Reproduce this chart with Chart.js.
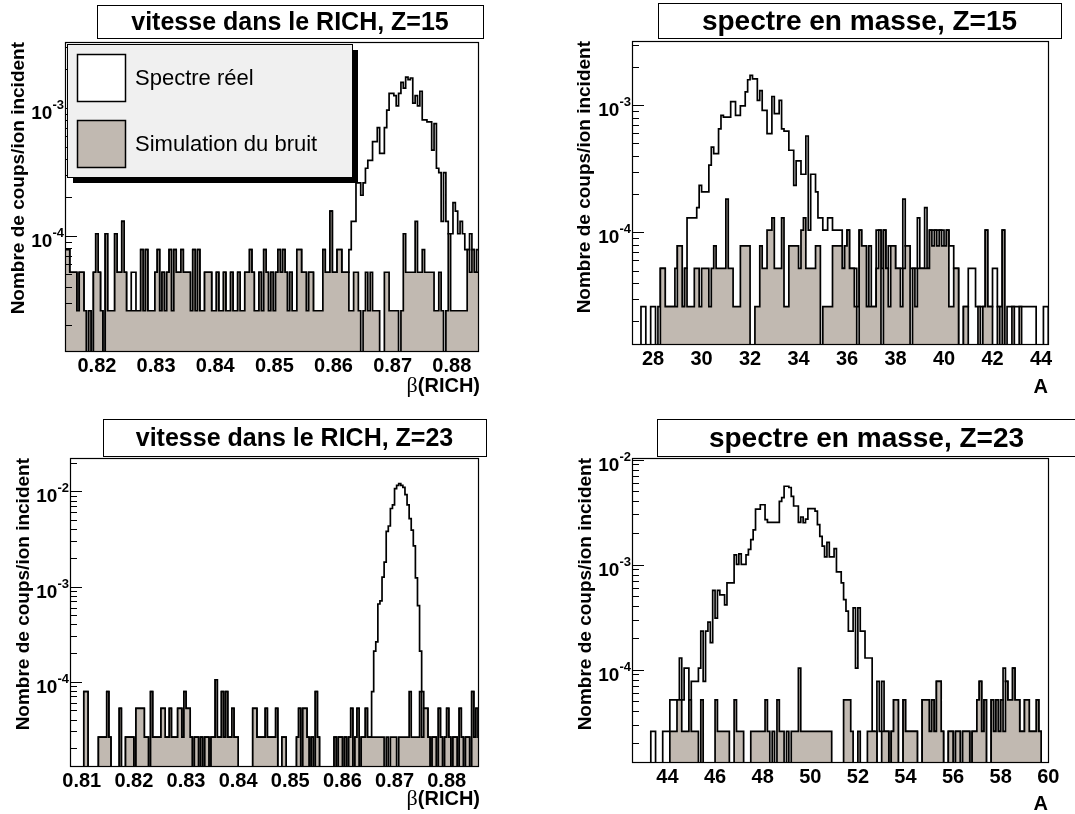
<!DOCTYPE html>
<html><head><meta charset="utf-8">
<script src="https://cdn.jsdelivr.net/npm/chart.js@4.4.1/dist/chart.umd.min.js"></script>
<style>
html,body{margin:0;padding:0;background:#fff;}
#wrap{position:relative;width:1075px;height:814px;overflow:hidden;background:#fff;}
#wrap canvas{position:absolute;}
</style></head><body>
<div id="wrap">
<canvas id="c1" width="537" height="407" style="left:0;top:0;width:537px;height:407px"></canvas>
<canvas id="c2" width="538" height="407" style="left:537px;top:0;width:538px;height:407px"></canvas>
<canvas id="c3" width="537" height="407" style="left:0;top:407px;width:537px;height:407px"></canvas>
<canvas id="c4" width="538" height="407" style="left:537px;top:407px;width:538px;height:407px"></canvas>
</div>
<script>
// ---------- DATA (counts per bin; value = counts x normalisation per incident ion) ----------
// Panel 1 : vitesse dans le RICH, Z=15  (bins of 0.0004 starting at 0.8146)
const p1BinStart = 0.8146, p1BinWidth = 0.0004, p1Unit = 2.6e-5;
const p1Real = [3,3,2,2,2,1,2,2,1,0, 1,0,2,4,2,1,0,4,1,1, 1,4,2,2,5,2,1,1,2,2, 1,1,3,1,3,1,1,1,2,3,
  1,2,1,2,3,1,3,2,2,3, 2,2,2,1,3,1,3,1,1,2, 2,2,1,1,2,1,1,2,1,1, 2,1,1,2,1,1,2,2,3,2, 1,1,2,1,3,2,1,2,
  1,2,3,2,3,2,1,2,1,1, 3,3,2,2,1,2,2,1,1,1, 1,3,2,2,6,2,2,3,3,2,
  2,2,3,5,5,10,10,8,10,13, 15,15,21,21,27,17,17,27,37,50, 50,48,40,50,61,55,67,64,66,42,
  48,40,52,31,31,30,30,18,29,13, 12,5,12,5,4,4,7,6,4,5, 4,3,3,4,3,2,3];
const p1Noise = [3,3,2,2,2,1,2,2,1,0, 1,0,2,4,2,1,0,4,1,1, 1,4,2,2,5,2,1,1,1,1, 1,1,3,1,3,1,1,1,2,3,
  1,2,1,2,3,1,3,2,2,3, 2,2,2,1,3,1,3,1,1,2, 2,2,1,1,2,1,1,2,1,1, 2,1,1,2,1,1,2,2,3,2, 1,1,2,1,3,2,1,2,
  1,2,3,2,3,2,1,2,1,1, 3,3,2,2,1,2,2,1,1,1, 1,3,2,2,6,2,2,3,3,2, 2,2,1,1,2,2,1,0,1,2,
  1,2,1,1,1,0,0,2,2,1, 1,1,1,0,1,4,2,2,2,2, 5,2,2,3,2,2,2,2,1,1, 2,1,0,1,4,1,1,1,1,1, 1,1,3,2,3,2,2];
const p1XTicks = [0.82,0.83,0.84,0.85,0.86,0.87,0.88];
const p1XLabels = ['0.82','0.83','0.84','0.85','0.86','0.87','0.88'];
const p1YDecades = [-4,-3];

// Panel 2 : spectre en masse, Z=15  (bins of 0.1 starting at 27.1)
const p2BinStart = 27.1, p2BinWidth = 0.1, p2Unit = 2.6e-5;
const p2Real = [0,0,0,0,1,1,0,0,1,1, 0,1,2,2,1,1,1,1,2,3, 3,1,2,
  5,5,5,5,6,9,8,8,8,13, 18,16,16,25,32,31,31,31,41,41, 32,32,38,38,49,61,66,62,62,42,
  50,35,35,23,23,45,33,33,42,25, 24,24,17,17,9,14,14,11,11,22, 4,11,11,8,5,5,4,4,5,5, 4,4,
  4,4,2,3,4,2,2,2,1,4, 3,3,1,3,1,1,4,4,2,4, 2,3,3,3,2,2,2,7,3,3, 2,2,2,5,2,2,6,2,4,4,
  4,4,4,4,3,4,3,3,2,2, 0,0,1,1,2,2,2,1,1,1, 1,4,1,1,2,2,1,1,4,0, 1,1,1,1,1,1,1,1,1,1,
  1,1,0,0,0,1,1,0];
const p2Noise = [0,0,0,0,0,0,0,0,0,0, 0,0,2,2,1,1,
  1,1,1,3,3,1,2,1,1,1, 2,2,1,2,2,2,1,2,3,2, 2,2,2,7,2,2,1,1,1,3, 3,3,3,0,0,1,1,3,2,2,
  4,4,5,2,2,2,5,1,1,3, 3,3,3,2,4,5,2,2,2,2, 3,3,0,1,1,1,1,3,3,
  3,3,2,3,4,2,2,1,0,4, 3,3,1,1,1,1,2,4,0,4, 2,1,3,3,2,2,1,2,3,3, 0,2,1,2,2,2,2,2,4,3,
  4,3,4,3,3,4,1,1,2,2, 0,0,1,1,0,0,0,0,1,0, 1,4,1,1,0,0,1,0,4,0, 0,0,1,0,0,1,0,0,0,0,
  0,0,0,0,0,0,0,0];
const p2XTicks = [28,30,32,34,36,38,40,42,44];
const p2XLabels = ['28','30','32','34','36','38','40','42','44'];
const p2YDecades = [-4,-3];

// Panel 3 : vitesse dans le RICH, Z=23  (bins of 0.0004 starting at 0.8076)
const p3BinStart = 0.8076, p3BinWidth = 0.0004, p3Unit = 2.62e-5;
const p3Real = [0,0,0,0,0,0,0,3,3,0, 0,0,0,0,1,1,1,1,3,1, 0,0,0,0,2,0,0,1,1,1, 1,0,2,2,2,2,1,1,0,3,
  1,1,1,1,2,2,1,1,2,1, 1,1,2,2,1,3,2,2,1,0, 1,1,0,1,0,1,1,0,1,1, 4,1,1,3,1,3,1,1,2,1,
  1,0,0,0,0,0,0,0,2,2, 1,1,1,1,2,1,1,1,1,2, 0,0,1,1,0,0,0,0,0,1, 2,0,2,2,1,0,1,0,3,1,
  0,0,0,0,0,0,0,1,0,1, 1,0,1,0,1,2,0,1,2,0, 1,1,2,1,1,3,8,10,25,27,
  48,69,145,165,252,275,408,440,460,440, 420,352,275,197,149,102,47,24,8,3,
  2,2,1,0,1,1,0,2,1,0, 1,2,1,0,1,1,0,2,1,0, 1,1,0,3,1,2,1];
const p3Noise = [0,0,0,0,0,0,0,3,3,0, 0,0,0,0,1,1,1,1,3,1, 0,0,0,0,2,0,0,1,1,1, 1,0,2,2,2,2,1,1,0,3,
  1,1,1,1,2,2,1,1,2,1, 1,1,2,2,1,3,2,2,1,0, 1,1,0,1,0,1,1,0,1,1, 4,1,1,3,1,3,1,1,2,1,
  1,0,0,0,0,0,0,0,2,2, 1,1,1,1,2,1,1,1,1,2, 0,0,1,1,0,0,0,0,0,1, 2,0,2,2,1,0,1,0,3,1,
  0,0,0,0,0,0,0,1,0,1, 1,0,1,0,1,2,0,1,2,0, 1,1,2,1,1,1,1,1,1,1, 1,0,1,0,1,1,1,0,1,1,
  1,1,1,3,1,1,1,1,3,1, 2,2,1,0,1,1,0,2,1,0, 1,2,1,0,1,1,0,2,1,0, 1,1,0,3,1,2,1];
const p3XTicks = [0.81,0.82,0.83,0.84,0.85,0.86,0.87,0.88];
const p3XLabels = ['0.81','0.82','0.83','0.84','0.85','0.86','0.87','0.88'];
const p3YDecades = [-4,-3,-2];

// Panel 4 : spectre en masse, Z=23  (bins of 0.1 starting at 42.5)
const p4BinStart = 42.5, p4BinWidth = 0.1, p4Unit = 2.58e-5;
const p4Real = [0,0,0,0,0,0,0,0,1,1, 0,0,0,1,1,1,
  2,2,2,2,5,2,4,4,1,3, 3,3,4,9,3,9,11,7,22,12, 22,20,20,16,26,26,26,48,39,49, 39,39,48,54,67,83,131,131,144,144,
  104,98,98,98,98,98,155,168,216,216, 210,173,140,140,98,110,97,105,132,132, 132,125,93,72,58,46,63,46,46,55,
  33,33,26,18,14,9,9,15,4,15, 9,9,5,5,5,1,0,3,1,3,
  1,1,0,1,2,2,0,0,2,1, 1,1,1,1,0,0,2,2,2,1, 2,1,3,3,1,0,0,1,1,0, 1,1,0,1,1,1,0,1,1,2,
  3,1,2,0,0,2,1,2,1,2, 4,3,2,2,4,2,2,1,1,2, 2,1,1,1,2,1,0,0,0,0];
const p4Noise = [0,0,0,0,0,0,0,0,0,0, 0,0,0,0,0,0,
  1,1,1,2,2,1,1,1,2,1, 1,1,0,2,0,0,0,0,0,2, 1,1,1,1,1,0,0,2,1,1, 1,0,0,0,1,1,1,1,1,1,
  2,1,0,1,0,2,1,1,0,1, 0,1,1,1,4,1,1,1,1,1, 1,1,1,1,1,1,1,1,0,0,
  0,0,0,2,2,2,1,0,0,1, 0,0,0,1,1,1,1,0,0,1,
  1,1,0,1,2,2,0,0,2,1, 1,1,1,1,0,0,2,2,2,1, 2,1,3,3,1,0,0,1,1,0, 1,1,0,1,1,1,0,1,1,2,
  3,1,2,0,0,2,1,2,1,2, 1,3,2,2,4,2,2,1,1,2, 2,1,1,1,2,1,0,0,0,0];
const p4XTicks = [44,46,48,50,52,54,56,58,60];
const p4XLabels = ['44','46','48','50','52','54','56','58','60'];
const p4YDecades = [-4,-3,-2];

const legendLabels = ['Spectre réel', 'Simulation du bruit'];
const yTitle = 'Nombre de coups/ion incident';

// ---------- STYLE ----------
const SANS = "'Liberation Sans', Arial, Helvetica, sans-serif";
const SERIF = "'Liberation Serif', 'Times New Roman', serif";
const GREY = '#c1b9b1';
// empty bins are drawn below the axis floor (log axis cannot show 0), like ROOT does
const EMPTY_BIN_LEVEL = 1e-8;

function makeHist(start, width, counts, unit) {
  const pts = counts.map((c, i) => ({x: start + i * width, y: c > 0 ? c * unit : EMPTY_BIN_LEVEL}));
  const last = counts[counts.length - 1];
  pts.push({x: start + counts.length * width, y: last > 0 ? last * unit : EMPTY_BIN_LEVEL});
  return pts;
}

function drawPow10(ctx, right, y, exp) {
  const base = '10', sup = String(exp);
  ctx.font = 'bold 19px ' + SANS;
  const w1 = ctx.measureText(base).width;
  ctx.font = 'bold 13px ' + SANS;
  const w2 = ctx.measureText(sup).width;
  const x0 = right - w1 - w2;
  ctx.textAlign = 'left'; ctx.textBaseline = 'alphabetic';
  ctx.font = 'bold 19px ' + SANS;
  ctx.fillText(base, x0, y + 11);
  ctx.font = 'bold 13px ' + SANS;
  ctx.fillText(sup, x0 + w1, y + 1);
}

const rootPlugin = {
  id: 'rootStyle',
  afterDatasetsDraw(chart, args, o) {
    const ctx = chart.ctx, a = chart.chartArea;
    const xs = chart.scales.x, ys = chart.scales.y;
    ctx.save();
    ctx.fillStyle = '#000'; ctx.strokeStyle = '#000';
    // frame
    ctx.lineWidth = 1.2;
    ctx.strokeRect(Math.round(a.left) + 0.5, Math.round(a.top) + 0.5, Math.round(a.right - a.left) - 1, Math.round(a.bottom - a.top));
    // y ticks (inside)
    const lo = Math.floor(Math.log10(ys.min)), hi = Math.ceil(Math.log10(ys.max));
    ctx.lineWidth = 1;
    ctx.beginPath();
    for (let d = lo; d <= hi; d++) {
      for (let m = 1; m <= 9; m++) {
        const v = m * Math.pow(10, d);
        if (v < ys.min || v > ys.max) continue;
        const y = Math.round(ys.getPixelForValue(v)) + 0.5;
        ctx.moveTo(a.left, y); ctx.lineTo(a.left + (m === 1 ? 12 : 7), y);
      }
    }
    ctx.stroke();
    // y tick labels
    o.yDecades.forEach(d => drawPow10(ctx, a.left - 1, ys.getPixelForValue(Math.pow(10, d)), '-' + Math.abs(d)));
    // x tick labels
    ctx.font = 'bold 20px ' + SANS; ctx.textAlign = 'center'; ctx.textBaseline = 'middle';
    o.xTicks.forEach((v, i) => ctx.fillText(o.xLabels[i], xs.getPixelForValue(v), a.bottom + 15));
    // x title
    ctx.textBaseline = 'alphabetic'; ctx.textAlign = 'left';
    if (o.xTitle === 'beta') {
      ctx.font = 'bold 20px ' + SANS;
      const w2 = ctx.measureText('(RICH)').width;
      ctx.font = '22px ' + SERIF;
      const w1 = ctx.measureText('β').width;
      const x0 = a.right + 1 - w1 - w2;
      ctx.fillText('β', x0, a.bottom + o.xTitleDy);
      ctx.font = 'bold 20px ' + SANS;
      ctx.fillText('(RICH)', x0 + w1, a.bottom + o.xTitleDy);
    } else {
      ctx.font = 'bold 20px ' + SANS; ctx.textAlign = 'right';
      ctx.fillText(o.xTitle, a.right - 1, a.bottom + o.xTitleDy);
    }
    // y title
    ctx.save();
    ctx.translate(o.yTitleX, a.top);
    ctx.rotate(-Math.PI / 2);
    ctx.font = 'bold 19px ' + SANS; ctx.textAlign = 'right'; ctx.textBaseline = 'middle';
    ctx.fillText(yTitle, 0, 0);
    ctx.restore();
    // legend
    if (o.legend) {
      const L = o.legend;
      ctx.fillStyle = '#000';
      ctx.fillRect(L.x + 6, L.y + 6, L.w, L.h);
      ctx.fillStyle = '#f0f0f0';
      ctx.fillRect(L.x, L.y, L.w, L.h);
      ctx.lineWidth = 1; ctx.strokeStyle = '#000';
      ctx.strokeRect(L.x + 0.5, L.y + 0.5, L.w, L.h);
      const boxes = [{fill: '#ffffff', y: L.y + 10}, {fill: GREY, y: L.y + 76}];
      boxes.forEach((b, i) => {
        ctx.fillStyle = b.fill;
        ctx.fillRect(L.x + 10, b.y, 48, 47);
        ctx.lineWidth = 1.5;
        ctx.strokeRect(L.x + 10.5, b.y + 0.5, 48, 47);
        ctx.fillStyle = '#000';
        ctx.font = '22px ' + SANS; ctx.textAlign = 'left'; ctx.textBaseline = 'middle';
        ctx.fillText(legendLabels[i], L.x + 68, b.y + 25);
      });
    }
    // title box
    const T = o.title;
    ctx.fillStyle = '#fff';
    ctx.fillRect(T.x0, T.y0, T.x1 - T.x0, T.y1 - T.y0);
    ctx.lineWidth = 1; ctx.strokeStyle = '#000';
    ctx.strokeRect(T.x0 + 0.5, T.y0 + 0.5, T.x1 - T.x0, T.y1 - T.y0);
    ctx.fillStyle = '#000';
    ctx.font = 'bold ' + T.size + 'px ' + SANS; ctx.textAlign = 'center'; ctx.textBaseline = 'middle';
    ctx.fillText(T.text, (T.x0 + T.x1) / 2 + (T.dx || 0), (T.y0 + T.y1) / 2 + 2);
    ctx.restore();
  }
};

function buildChart(id, p) {
  return new Chart(document.getElementById(id), {
    type: 'line',
    data: {
      datasets: [
        {label: legendLabels[0], data: makeHist(p.start, p.width, p.real, p.unit), stepped: true,
         borderColor: '#000', borderWidth: 1.7, backgroundColor: '#ffffff', fill: 'start', pointRadius: 0, order: 2},
        {label: legendLabels[1], data: makeHist(p.start, p.width, p.noise, p.unit), stepped: true,
         borderColor: '#000', borderWidth: 1.7, backgroundColor: GREY, fill: 'start', pointRadius: 0, order: 1}
      ]
    },
    options: {
      responsive: false, animation: false, devicePixelRatio: 1,
      layout: {padding: {left: 0, top: p.padTop, right: p.padRight, bottom: 0}},
      plugins: {legend: {display: false}, tooltip: {enabled: false}, rootStyle: p.style},
      elements: {line: {tension: 0}},
      scales: {
        x: {type: 'linear', min: p.xmin, max: p.xmax, ticks: {display: false},
            grid: {display: false, drawTicks: false}, border: {display: false},
            afterFit: s => { s.height = p.xh; }},
        y: {type: 'logarithmic', min: p.ymin, max: p.ymax, ticks: {display: false},
            grid: {display: false, drawTicks: false}, border: {display: false},
            afterFit: s => { s.width = p.yw; }}
      }
    },
    plugins: [rootPlugin]
  });
}

buildChart('c1', {
  start: p1BinStart, width: p1BinWidth, unit: p1Unit, real: p1Real, noise: p1Noise,
  xmin: 0.8146, xmax: 0.8846, ymin: 1.26e-5, ymax: 3.28e-3,
  padTop: 42, padRight: 58, yw: 65, xh: 56,
  style: {xTicks: p1XTicks, xLabels: p1XLabels, yDecades: p1YDecades, xTitle: 'beta', xTitleDy: 41, yTitleX: 19,
    legend: {x: 67, y: 44, w: 285, h: 133},
    title: {text: 'vitesse dans le RICH, Z=15', x0: 97, y0: 5, x1: 483, y1: 38, size: 25}}
});
buildChart('c2', {
  start: p2BinStart, width: p2BinWidth, unit: p2Unit, real: p2Real, noise: p2Noise,
  xmin: 27.13, xmax: 44.33, ymin: 1.32e-5, ymax: 3.2e-3,
  padTop: 41, padRight: 26, yw: 95, xh: 63,
  style: {xTicks: p2XTicks, xLabels: p2XLabels, yDecades: p2YDecades, xTitle: 'A', xTitleDy: 49, yTitleX: 48,
    title: {text: 'spectre en masse, Z=15', x0: 121, y0: 3, x1: 524, y1: 38, size: 28}}
});
buildChart('c3', {
  start: p3BinStart, width: p3BinWidth, unit: p3Unit, real: p3Real, noise: p3Noise,
  xmin: 0.80775, xmax: 0.8862, ymin: 1.3e-5, ymax: 2.24e-2,
  padTop: 51, padRight: 58, yw: 70, xh: 48,
  style: {xTicks: p3XTicks, xLabels: p3XLabels, yDecades: p3YDecades, xTitle: 'beta', xTitleDy: 39, yTitleX: 24,
    title: {text: 'vitesse dans le RICH, Z=23', x0: 103, y0: 12, x1: 486, y1: 49, size: 25}}
});
buildChart('c4', {
  start: p4BinStart, width: p4BinWidth, unit: p4Unit, real: p4Real, noise: p4Noise,
  xmin: 42.51, xmax: 60.03, ymin: 1.32e-5, ymax: 1.035e-2,
  padTop: 51, padRight: 26, yw: 95, xh: 52,
  style: {xTicks: p4XTicks, xLabels: p4XLabels, yDecades: p4YDecades, xTitle: 'A', xTitleDy: 48, yTitleX: 48.5,
    title: {text: 'spectre en masse, Z=23', x0: 120, y0: 12, x1: 545, y1: 49, size: 28, dx: -3}}
});
</script>
</body></html>
